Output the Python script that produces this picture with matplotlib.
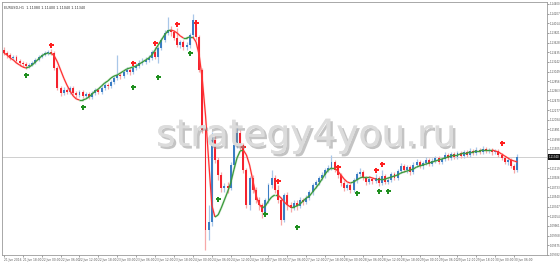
import matplotlib
matplotlib.use("Agg")
import matplotlib.pyplot as plt
import numpy as np
from matplotlib.collections import LineCollection
import matplotlib.patheffects as pe

symbol = "EURUSD,H1"

opens = [1.1348, 1.1342, 1.1338, 1.1332, 1.1334, 1.1326, 1.1322, 1.1320, 1.1316, 1.1318,
         1.1322, 1.1328, 1.1334, 1.1338, 1.1342, 1.1344, 1.1342, 1.1312, 1.1272, 1.1262,
         1.1268, 1.1264, 1.1272, 1.1262, 1.1258, 1.1264, 1.1256, 1.1260, 1.1254, 1.1262,
         1.1268, 1.1264, 1.1272, 1.1278, 1.1276, 1.1284, 1.1292, 1.1298, 1.1296, 1.1304,
         1.1308, 1.1304, 1.1312, 1.1316, 1.1322, 1.1324, 1.1328, 1.1332, 1.1344, 1.1334,
         1.1352, 1.1368, 1.1382, 1.1388, 1.1384, 1.1372, 1.1358, 1.1364, 1.1354, 1.1358,
         1.1378, 1.1408, 1.1374, 1.1308, 1.1188, 1.0988, 1.1004, 1.1168, 1.1128, 1.1098,
         1.1072, 1.1076, 1.1072, 1.1118, 1.1158, 1.1182, 1.1158, 1.1108, 1.1038, 1.1092,
         1.1068, 1.1048, 1.1038, 1.1024, 1.1048, 1.1078, 1.1092, 1.1068, 1.1048, 1.1008,
         1.1058, 1.1038, 1.1032, 1.1042, 1.1036, 1.1048, 1.1044, 1.1052, 1.1064, 1.1078,
         1.1084, 1.1092, 1.1098, 1.1108, 1.1112, 1.1124, 1.1108, 1.1098, 1.1082, 1.1072,
         1.1078, 1.1068, 1.1088, 1.1100, 1.1104, 1.1092, 1.1084, 1.1090, 1.1086, 1.1092,
         1.1082, 1.1096, 1.1084, 1.1088, 1.1100, 1.1092, 1.1106, 1.1116, 1.1108, 1.1114,
         1.1104, 1.1118, 1.1124, 1.1116, 1.1122, 1.1128, 1.1120, 1.1126, 1.1132, 1.1124,
         1.1130, 1.1138, 1.1132, 1.1140, 1.1134, 1.1142, 1.1136, 1.1144, 1.1138, 1.1146,
         1.1142, 1.1148, 1.1144, 1.1150, 1.1146, 1.1148, 1.1144, 1.1146, 1.1138, 1.1132,
         1.1124, 1.1128, 1.1116, 1.1108]

closes = [1.1342, 1.1338, 1.1332, 1.1334, 1.1326, 1.1322, 1.1320, 1.1316, 1.1318, 1.1322,
          1.1328, 1.1334, 1.1338, 1.1342, 1.1344, 1.1342, 1.1312, 1.1272, 1.1262, 1.1268,
          1.1264, 1.1272, 1.1262, 1.1258, 1.1264, 1.1256, 1.1260, 1.1254, 1.1262, 1.1268,
          1.1264, 1.1272, 1.1278, 1.1276, 1.1284, 1.1292, 1.1298, 1.1296, 1.1304, 1.1308,
          1.1304, 1.1312, 1.1316, 1.1322, 1.1324, 1.1328, 1.1332, 1.1344, 1.1334, 1.1352,
          1.1368, 1.1382, 1.1388, 1.1384, 1.1372, 1.1358, 1.1364, 1.1354, 1.1358, 1.1378,
          1.1408, 1.1374, 1.1308, 1.1188, 1.0988, 1.1004, 1.1168, 1.1128, 1.1098, 1.1072,
          1.1076, 1.1072, 1.1118, 1.1158, 1.1182, 1.1158, 1.1108, 1.1038, 1.1092, 1.1068,
          1.1048, 1.1038, 1.1024, 1.1048, 1.1078, 1.1092, 1.1068, 1.1048, 1.1008, 1.1058,
          1.1038, 1.1032, 1.1042, 1.1036, 1.1048, 1.1044, 1.1052, 1.1064, 1.1078, 1.1084,
          1.1092, 1.1098, 1.1108, 1.1112, 1.1124, 1.1108, 1.1098, 1.1082, 1.1072, 1.1078,
          1.1068, 1.1088, 1.1100, 1.1104, 1.1092, 1.1084, 1.1090, 1.1086, 1.1092, 1.1082,
          1.1096, 1.1084, 1.1088, 1.1100, 1.1092, 1.1106, 1.1116, 1.1108, 1.1114, 1.1104,
          1.1118, 1.1124, 1.1116, 1.1122, 1.1128, 1.1120, 1.1126, 1.1132, 1.1124, 1.1130,
          1.1138, 1.1132, 1.1140, 1.1134, 1.1142, 1.1136, 1.1144, 1.1138, 1.1146, 1.1142,
          1.1148, 1.1144, 1.1150, 1.1146, 1.1148, 1.1144, 1.1146, 1.1138, 1.1132, 1.1124,
          1.1128, 1.1116, 1.1108, 1.1134]

highs = [1.1354, 1.1346, 1.1342, 1.1338, 1.1338, 1.1330, 1.1326, 1.1324, 1.1322, 1.1326,
         1.1332, 1.1338, 1.1342, 1.1346, 1.1348, 1.1350, 1.1346, 1.1316, 1.1276, 1.1274,
         1.1272, 1.1276, 1.1276, 1.1266, 1.1268, 1.1268, 1.1264, 1.1264, 1.1266, 1.1272,
         1.1272, 1.1276, 1.1282, 1.1282, 1.1288, 1.1296, 1.1338, 1.1304, 1.1308, 1.1314,
         1.1312, 1.1316, 1.1322, 1.1328, 1.1332, 1.1334, 1.1338, 1.1348, 1.1354, 1.1356,
         1.1372, 1.1388, 1.1414, 1.1396, 1.1388, 1.1392, 1.1368, 1.1368, 1.1364, 1.1382,
         1.1420, 1.1394, 1.1378, 1.1312, 1.1192, 1.1038, 1.1184, 1.1176, 1.1134, 1.1104,
         1.1082, 1.1084, 1.1124, 1.1164, 1.1198, 1.1188, 1.1162, 1.1112, 1.1096, 1.1098,
         1.1074, 1.1054, 1.1042, 1.1052, 1.1082, 1.1108, 1.1098, 1.1078, 1.1054, 1.1062,
         1.1064, 1.1044, 1.1048, 1.1048, 1.1054, 1.1052, 1.1058, 1.1068, 1.1082, 1.1088,
         1.1096, 1.1104, 1.1112, 1.1118, 1.1138, 1.1128, 1.1112, 1.1102, 1.1088, 1.1082,
         1.1082, 1.1092, 1.1104, 1.1112, 1.1108, 1.1096, 1.1096, 1.1094, 1.1100, 1.1096,
         1.1108, 1.1100, 1.1094, 1.1104, 1.1104, 1.1110, 1.1122, 1.1120, 1.1118, 1.1118,
         1.1124, 1.1130, 1.1128, 1.1126, 1.1134, 1.1132, 1.1132, 1.1136, 1.1136, 1.1134,
         1.1144, 1.1142, 1.1144, 1.1144, 1.1146, 1.1146, 1.1148, 1.1148, 1.1152, 1.1150,
         1.1154, 1.1152, 1.1156, 1.1154, 1.1152, 1.1152, 1.1150, 1.1150, 1.1142, 1.1136,
         1.1132, 1.1132, 1.1120, 1.1140]

lows = [1.1338, 1.1332, 1.1328, 1.1328, 1.1322, 1.1316, 1.1314, 1.1310, 1.1312, 1.1316,
        1.1320, 1.1326, 1.1332, 1.1336, 1.1338, 1.1338, 1.1308, 1.1268, 1.1256, 1.1258,
        1.1260, 1.1260, 1.1258, 1.1252, 1.1254, 1.1252, 1.1252, 1.1250, 1.1250, 1.1258,
        1.1260, 1.1260, 1.1268, 1.1270, 1.1272, 1.1280, 1.1288, 1.1290, 1.1292, 1.1300,
        1.1298, 1.1300, 1.1308, 1.1312, 1.1318, 1.1320, 1.1324, 1.1328, 1.1330, 1.1322,
        1.1348, 1.1364, 1.1378, 1.1376, 1.1368, 1.1354, 1.1352, 1.1348, 1.1348, 1.1352,
        1.1374, 1.1368, 1.1304, 1.1182, 1.0948, 1.0968, 1.0996, 1.1122, 1.1088, 1.1064,
        1.1064, 1.1062, 1.1068, 1.1112, 1.1152, 1.1148, 1.1102, 1.1032, 1.1028, 1.1062,
        1.1042, 1.1028, 1.1012, 1.1018, 1.1042, 1.1072, 1.1062, 1.1042, 1.0998, 1.1004,
        1.1028, 1.1024, 1.1028, 1.1028, 1.1032, 1.1038, 1.1040, 1.1048, 1.1058, 1.1072,
        1.1078, 1.1088, 1.1092, 1.1104, 1.1108, 1.1104, 1.1092, 1.1076, 1.1066, 1.1068,
        1.1062, 1.1064, 1.1082, 1.1096, 1.1088, 1.1078, 1.1080, 1.1080, 1.1082, 1.1076,
        1.1078, 1.1080, 1.1080, 1.1084, 1.1088, 1.1088, 1.1102, 1.1104, 1.1102, 1.1098,
        1.1100, 1.1114, 1.1112, 1.1110, 1.1118, 1.1116, 1.1116, 1.1122, 1.1120, 1.1120,
        1.1126, 1.1128, 1.1128, 1.1130, 1.1130, 1.1132, 1.1132, 1.1134, 1.1134, 1.1138,
        1.1138, 1.1140, 1.1140, 1.1142, 1.1142, 1.1138, 1.1140, 1.1134, 1.1128, 1.1120,
        1.1118, 1.1112, 1.1102, 1.1104]

trend_line = [1.1342, 1.1338, 1.1332, 1.1328, 1.1322, 1.1318, 1.1314, 1.1312, 1.1314, 1.1318,
              1.1324, 1.1330, 1.1336, 1.1340, 1.1342, 1.1342, 1.1336, 1.1324, 1.1308, 1.1292,
              1.1278, 1.1266, 1.1256, 1.1250, 1.1248, 1.1248, 1.1250, 1.1254, 1.1260, 1.1266,
              1.1270, 1.1276, 1.1282, 1.1286, 1.1292, 1.1296, 1.1298, 1.1302, 1.1306, 1.1310,
              1.1312, 1.1314, 1.1316, 1.1320, 1.1324, 1.1328, 1.1332, 1.1338, 1.1348, 1.1358,
              1.1368, 1.1378, 1.1386, 1.1388, 1.1386, 1.1382, 1.1376, 1.1372, 1.1372, 1.1374,
              1.1374, 1.1364, 1.1338, 1.1288, 1.1218, 1.1128, 1.1038, 1.1014, 1.1018, 1.1032,
              1.1048, 1.1064, 1.1082, 1.1108, 1.1132, 1.1146, 1.1148, 1.1138, 1.1118, 1.1088,
              1.1058, 1.1040, 1.1032, 1.1036, 1.1046, 1.1054, 1.1058, 1.1058, 1.1052, 1.1044,
              1.1038, 1.1034, 1.1034, 1.1036, 1.1040, 1.1046, 1.1052, 1.1056, 1.1064, 1.1072,
              1.1080, 1.1090, 1.1100, 1.1108, 1.1112, 1.1112, 1.1106, 1.1098, 1.1090, 1.1084,
              1.1082, 1.1084, 1.1088, 1.1092, 1.1094, 1.1094, 1.1094, 1.1092, 1.1090, 1.1090,
              1.1090, 1.1090, 1.1092, 1.1094, 1.1096, 1.1098, 1.1102, 1.1104, 1.1106, 1.1108,
              1.1110, 1.1114, 1.1116, 1.1118, 1.1120, 1.1122, 1.1124, 1.1126, 1.1128, 1.1130,
              1.1132, 1.1134, 1.1136, 1.1138, 1.1138, 1.1140, 1.1142, 1.1142, 1.1144, 1.1144,
              1.1146, 1.1146, 1.1148, 1.1148, 1.1148, 1.1148, 1.1146, 1.1144, 1.1140, 1.1136,
              1.1132, 1.1128, 1.1126, 1.1124]

sell_bars = [15, 41, 48, 55, 61, 76, 87, 106, 118, 120, 158]
sell_prices = [1.1358, 1.1322, 1.1362, 1.1400, 1.1402, 1.1154, 1.1086, 1.1114, 1.1108, 1.1120, 1.1162]
buy_bars = [7, 25, 41, 49, 59, 68, 83, 93, 112, 119, 122]
buy_prices = [1.1298, 1.1234, 1.1274, 1.1294, 1.1342, 1.1050, 1.1020, 1.0994, 1.1062, 1.1066, 1.1066]

time_tick_labels = ["21 Jun 2016", "21 Jun 18:00", "22 Jun 00:00", "22 Jun 06:00", "22 Jun 12:00",
                    "22 Jun 18:00", "23 Jun 00:00", "23 Jun 06:00", "23 Jun 12:00", "23 Jun 18:00",
                    "24 Jun 00:00", "24 Jun 06:00", "24 Jun 12:00", "24 Jun 18:00", "27 Jun 00:00",
                    "27 Jun 06:00", "27 Jun 12:00", "27 Jun 18:00", "28 Jun 00:00", "28 Jun 06:00",
                    "28 Jun 12:00", "28 Jun 18:00", "29 Jun 00:00", "29 Jun 06:00", "29 Jun 12:00",
                    "29 Jun 18:00", "30 Jun 00:00", "30 Jun 06:00"]
bars_per_label = 6

price_top = 1.1440
price_step = 0.00193
n_price_ticks = 27

watermark = "strategy4you.ru"

# ---------------------------------------------------------------
W, H = 560, 262
fig = plt.figure(figsize=(W / 100, H / 100), dpi=100)
fig.patch.set_facecolor("white")
ax = fig.add_axes([2 / W, 7 / H, 545 / W, 253 / H])
ax.set_facecolor("white")

n = len(closes)
x = np.arange(n)
o = np.array(opens); c = np.array(closes)
hi = np.array(highs); lo = np.array(lows)
up = c >= o

blue, red = "#3b7dc4", "#f5222d"
blue_w, red_w = "#a9c7e8", "#f7a8a8"

ax.vlines(x[up], lo[up], hi[up], color=blue_w, lw=0.9, zorder=2)
ax.vlines(x[~up], lo[~up], hi[~up], color=red_w, lw=0.9, zorder=2)
body = np.where(np.abs(c - o) < 0.00006, 0.00006, c - o)
ax.bar(x[up], body[up], bottom=o[up], width=0.62, color=blue, lw=0, zorder=3)
ax.bar(x[~up], body[~up], bottom=o[~up], width=0.62, color=red, lw=0, zorder=3)

# trend line coloured by direction
tl = np.array(trend_line)
segs = [[(x[i], tl[i]), (x[i + 1], tl[i + 1])] for i in range(n - 1)]
cols = ["#3a9a3a" if tl[i + 1] >= tl[i] else "#ff3030" for i in range(n - 1)]
halo = ["#3a9a3a" if tl[i + 1] >= tl[i] else "#ff8080" for i in range(n - 1)]
ax.add_collection(LineCollection(segs, colors=halo, linewidths=1.8, alpha=0.18, zorder=4))
ax.add_collection(LineCollection(segs, colors=cols, linewidths=0.9, zorder=4))

ax.plot(sell_bars, sell_prices, ls="none", marker="P", ms=3.6, color="#ff2020", mew=0, zorder=5)
ax.plot(buy_bars, buy_prices, ls="none", marker="P", ms=3.6, color="#1f8f1f", mew=0, zorder=5)

# current price line
last = closes[-1]
ax.axhline(last, color="#c8c8c8", lw=0.6, zorder=1)

# limits
spacing = 3.15
ax.set_xlim(-0.6, -0.6 + 545 / spacing)
y_top = price_top + 2 * 0.0002
ax.set_ylim(y_top - 253 * 0.0002, y_top)

# y ticks right (label hidden where the current-price box sits, as MT4 does)
yt = [round(price_top - k * price_step, 5) for k in range(n_price_ticks)]
ax.yaxis.tick_right()
ax.set_yticks(yt)
ax.set_yticklabels(["" if abs(v - last) < 0.0012 else f"{v:.5f}" for v in yt])
ax.tick_params(axis="y", length=1.5, width=0.4, colors="#555555", labelsize=1.9, pad=0.6)

xt = [i * bars_per_label for i in range(len(time_tick_labels))]
ax.set_xticks(xt)
ax.set_xticklabels(time_tick_labels, ha="left")
ax.tick_params(axis="x", length=1.5, width=0.4, colors="#555555", labelsize=2.1, pad=0.8)

for s in ax.spines.values():
    s.set_color("#9a9a9a")
    s.set_linewidth(0.6)

# price box
ax.text(1.0025, last, f"{last:.5f}", transform=ax.get_yaxis_transform(), fontsize=1.9,
        color="white", va="center", ha="left",
        bbox=dict(boxstyle="square,pad=0.3", fc="#111111", ec="none"), zorder=10, clip_on=False)

# header
ax.text(0.003, 0.985,
        f"{symbol}  {opens[-1]:.5f} {highs[-1]:.5f} {lows[-1]:.5f} {closes[-1]:.5f}",
        transform=ax.transAxes, fontsize=2.4, color="#333333", va="top", ha="left")

# watermark
ax.text(0.558, 0.47, watermark, transform=ax.transAxes, fontsize=27, color="#dcdcdc",
        family="DejaVu Sans", ha="center", va="center", zorder=6, alpha=0.9,
        path_effects=[pe.withSimplePatchShadow(offset=(1.8, -1.8), shadow_rgbFace="#8a8a8a", alpha=0.5),
                      pe.Normal()])

fig.savefig("out.png", dpi=100)
